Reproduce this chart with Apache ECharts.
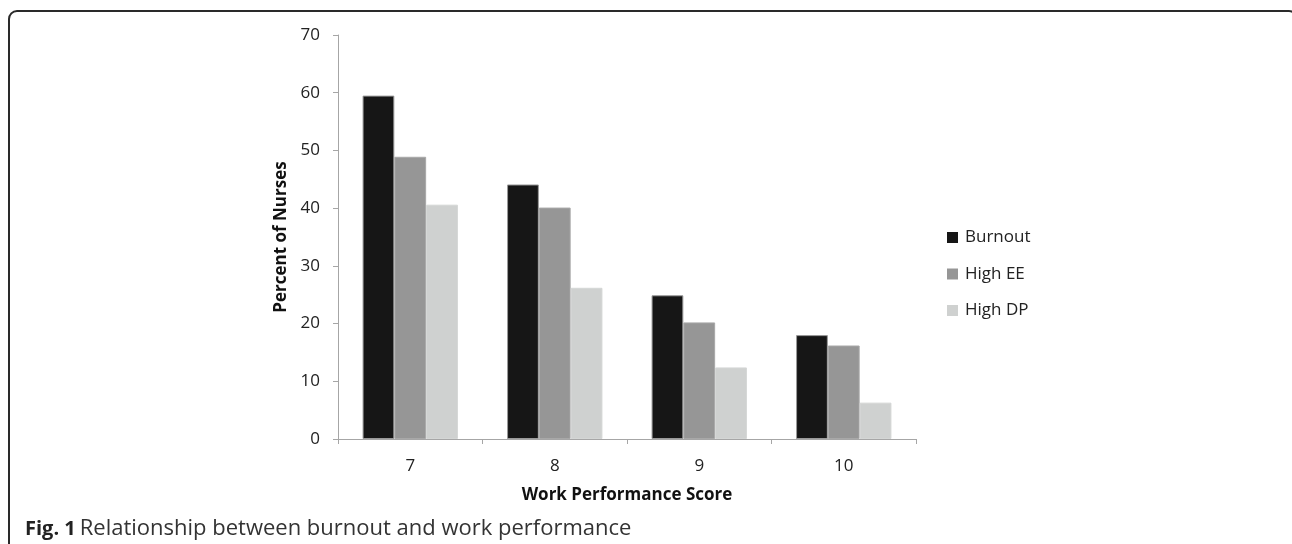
<!DOCTYPE html>
<html>
<head>
<meta charset="utf-8">
<script src="https://cdn.jsdelivr.net/npm/echarts@6/dist/echarts.min.js"></script>
<style>
  html, body { margin: 0; padding: 0; background: #fff; }
  #wrap { position: relative; width: 1292px; height: 544px; overflow: hidden; }
  #frame {
    position: absolute; left: 8px; top: 10px; width: 1290px; height: 560px;
    border: 2px solid #2a2a2a; border-radius: 9px; box-sizing: border-box;
  }
  #chart { position: absolute; left: 0; top: 0; width: 1292px; height: 544px; }
</style>
</head>
<body>
<div id="wrap">
  <div id="frame"></div>
  <div id="chart"></div>
</div>
<script>
// Work performance score categories
const categories = ['7', '8', '9', '10'];
// Percent of nurses per group
const burnout = [59.5, 44.1, 24.9, 18.0];
const highEE  = [48.9, 40.1, 20.2, 16.2];
const highDP  = [40.6, 26.2, 12.4, 6.3];
const seriesNames = ['Burnout', 'High EE', 'High DP'];
const yTicks = { min: 0, max: 70, step: 10 };

const FONT = '"Open Sans", "Noto Sans", sans-serif';
const chart = echarts.init(document.getElementById('chart'), null, { renderer: 'canvas' });

const barStyle = (color, border) => ({
  color: color,
  borderColor: border,
  borderWidth: 1
});

chart.setOption({
  animation: false,
  backgroundColor: 'transparent',
  grid: { left: 338, right: 376, top: 35, bottom: 105, containLabel: false },
  legend: {
    orient: 'vertical',
    left: 947,
    top: 229,
    padding: 0,
    itemWidth: 11,
    itemHeight: 11,
    itemGap: 19.5,
    icon: 'rect',
    itemStyle: { borderWidth: 0 },
    textStyle: { fontFamily: FONT, fontSize: 17, color: '#222', padding: [0, 0, 0, 2] },
    data: seriesNames
  },
  xAxis: {
    type: 'category',
    data: categories,
    name: 'Work Performance Score',
    nameLocation: 'middle',
    nameGap: 48,
    nameTextStyle: { fontFamily: FONT, fontSize: 17, fontWeight: 'bold', color: '#111' },
    axisLine: { lineStyle: { color: '#a6a6a6', width: 1 } },
    axisTick: { show: true, length: 5, alignWithLabel: false, lineStyle: { color: '#a6a6a6' } },
    axisLabel: { fontFamily: FONT, fontSize: 17, color: '#222', margin: 19 },
    splitLine: { show: false }
  },
  yAxis: {
    type: 'value',
    min: yTicks.min,
    max: yTicks.max,
    interval: yTicks.step,
    name: 'Percent of Nurses',
    nameLocation: 'middle',
    nameGap: 48,
    nameRotate: 90,
    nameTextStyle: { fontFamily: FONT, fontSize: 17, fontWeight: 'bold', color: '#111' },
    axisLine: { show: true, lineStyle: { color: '#a6a6a6', width: 1 } },
    axisTick: { show: true, length: 5, lineStyle: { color: '#a6a6a6' } },
    axisLabel: { fontFamily: FONT, fontSize: 17, color: '#222', margin: 18 },
    splitLine: { show: false }
  },
  series: [
    { name: seriesNames[0], type: 'bar', data: burnout, barGap: '0%', barCategoryGap: '34%',
      itemStyle: barStyle('#161616', '#9a9a9a') },
    { name: seriesNames[1], type: 'bar', data: highEE, barGap: '0%', barCategoryGap: '34%',
      itemStyle: barStyle('#969696', '#a8a8a8') },
    { name: seriesNames[2], type: 'bar', data: highDP, barGap: '0%', barCategoryGap: '34%',
      itemStyle: barStyle('#cfd1d0', '#d4d6d5') }
  ],
  graphic: [
    {
      type: 'text', left: 25, top: 518,
      style: {
        rich: {
          b: { fontFamily: FONT, fontSize: 20, fontWeight: 'bold', fill: '#222' },
          n: { fontFamily: FONT, fontSize: 22, fill: '#333', padding: [0, 0, 0, 4] }
        },
        text: '{b|Fig. 1}{n|Relationship between burnout and work performance}'
      }
    }
  ]
});
</script>
</body>
</html>
